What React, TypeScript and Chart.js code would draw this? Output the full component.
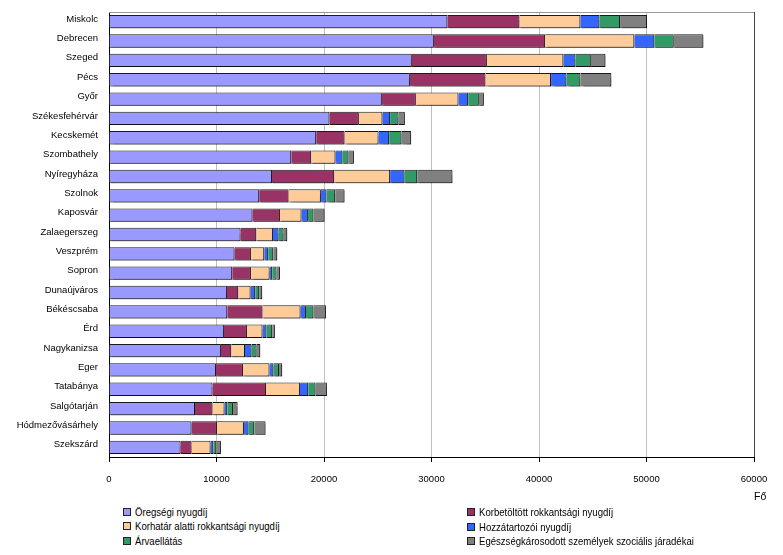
import React, { useEffect, useRef } from "react";
import { Chart, registerables } from "chart.js";

Chart.register(...registerables);

const categories = [
  "Miskolc", "Debrecen", "Szeged", "Pécs", "Győr", "Székesfehérvár", "Kecskemét",
  "Szombathely", "Nyíregyháza", "Szolnok", "Kaposvár", "Zalaegerszeg", "Veszprém",
  "Sopron", "Dunaújváros", "Békéscsaba", "Érd", "Nagykanizsa", "Eger", "Tatabánya",
  "Salgótarján", "Hódmezővásárhely", "Szekszárd",
];

const oregsegi = [31480, 30220, 28170, 27990, 25380, 20510, 19270, 16950, 15160, 13970, 13350, 12240, 11680, 11460, 10970, 11000, 10690, 10410, 9950, 9630, 8000, 7680, 6660];
const korbetoltott = [6700, 10350, 6980, 7030, 3160, 2730, 2640, 1860, 5790, 2730, 2550, 1460, 1520, 1740, 1050, 3280, 2140, 960, 2510, 4970, 1630, 2360, 1020];
const korhatarAlatti = [5670, 8300, 7120, 6100, 3970, 2200, 3160, 2260, 5200, 3010, 2010, 1550, 1240, 1740, 1150, 3540, 1450, 1280, 2470, 3160, 1120, 2510, 1770];
const hozzatartozoi = [1770, 1860, 1120, 1430, 900, 710, 990, 650, 1340, 520, 590, 520, 370, 240, 430, 500, 370, 610, 370, 770, 250, 430, 250];
const arvaellatas = [1920, 1800, 1430, 1300, 990, 780, 1150, 560, 1180, 810, 520, 470, 470, 400, 370, 700, 530, 470, 510, 680, 530, 530, 280];
const egeszseg = [2510, 2760, 1360, 2880, 470, 590, 900, 500, 3280, 870, 1030, 340, 370, 320, 280, 1160, 250, 340, 300, 1060, 430, 1050, 430];

const xTicks = [0, 10000, 20000, 30000, 40000, 50000, 60000];

const seriesNames = [
  "Öregségi nyugdíj",
  "Korbetöltött rokkantsági nyugdíj",
  "Korhatár alatti rokkantsági nyugdíj",
  "Hozzátartozói nyugdíj",
  "Árvaellátás",
  "Egészségkárosodott személyek szociális járadékai",
];
const seriesColors = ["#9999FF", "#993366", "#FFCC99", "#3366FF", "#339966", "#808080"];
const seriesData = [oregsegi, korbetoltott, korhatarAlatti, hozzatartozoi, arvaellatas, egeszseg];

const FONT = "'Liberation Sans', Arial, sans-serif";

const shadowPlugin = {
  id: "barShadow",
  beforeDatasetsDraw(chart: any) {
    const ctx = chart.ctx;
    ctx.save();
    ctx.shadowColor = "rgba(0,0,0,0.35)";
    ctx.shadowOffsetX = 1.5;
    ctx.shadowOffsetY = 1.5;
    ctx.shadowBlur = 1;
  },
  afterDatasetsDraw(chart: any) {
    chart.ctx.restore();
  },
};

const framePlugin = {
  id: "frame",
  afterDraw(chart: any) {
    const { ctx, chartArea } = chart;
    ctx.save();
    ctx.lineWidth = 1;
    ctx.strokeStyle = "#9a9a9a";
    ctx.beginPath();
    ctx.moveTo(chartArea.left, chartArea.top + 0.5);
    ctx.lineTo(chartArea.right, chartArea.top + 0.5);
    ctx.stroke();
    ctx.strokeStyle = "#444";
    ctx.beginPath();
    ctx.moveTo(chartArea.right + 0.5, chartArea.top);
    ctx.lineTo(chartArea.right + 0.5, chartArea.bottom);
    ctx.stroke();
    ctx.restore();
  },
};

export default function App() {
  const ref = useRef<HTMLCanvasElement | null>(null);

  useEffect(() => {
    document.body.style.margin = "0";
    if (!ref.current) return;
    const chart = new Chart(ref.current, {
      type: "bar",
      data: {
        labels: categories,
        datasets: seriesNames.map((name, i) => ({
          label: name,
          data: seriesData[i],
          backgroundColor: seriesColors[i],
          borderColor: "#1a1a1a",
          borderWidth: 1,
          barPercentage: 0.69,
          categoryPercentage: 1,
        })),
      },
      options: {
        indexAxis: "y",
        responsive: false,
        animation: false,
        maintainAspectRatio: false,
        layout: { padding: { top: 12, right: 29, left: 0, bottom: 0 } },
        plugins: {
          legend: { display: false },
          tooltip: { enabled: false },
        },
        scales: {
          x: {
            stacked: true,
            min: 0,
            max: 60000,
            afterBuildTicks: (scale: any) => {
              scale.ticks = xTicks.map((v) => ({ value: v }));
            },
            afterFit: (scale: any) => {
              scale.height = 43;
              scale.paddingLeft = 0;
              scale.paddingRight = 0;
            },
            ticks: {
              color: "#000",
              font: { family: FONT, size: 9.5 },
              padding: 12,
              maxRotation: 0,
              callback: (v: any) => String(v),
            },
            grid: { color: "#c0c0c0", tickColor: "#000", tickLength: 5, lineWidth: 1 },
            border: { color: "#000", width: 1 },
          },
          y: {
            stacked: true,
            afterFit: (scale: any) => {
              scale.width = 109;
              scale.paddingTop = 0;
              scale.paddingBottom = 0;
            },
            ticks: {
              color: "#000",
              font: { family: FONT, size: 9.5 },
              padding: 11,
              labelOffset: -2.5,
              autoSkip: false,
            },
            grid: { display: false, drawTicks: false },
            border: { display: true, color: "#000", width: 1 },
          },
        },
      },
      plugins: [shadowPlugin, framePlugin],
    } as any);
    return () => chart.destroy();
  }, []);

  const legendPos = [
    { x: 123, y: 512 },
    { x: 467, y: 512 },
    { x: 123, y: 526 },
    { x: 467, y: 526.5 },
    { x: 123, y: 541 },
    { x: 467, y: 541 },
  ];

  return (
    <div style={{ position: "relative", width: 783, height: 555, background: "#fff", fontFamily: FONT }}>
      <canvas ref={ref} width={783} height={500} style={{ position: "absolute", left: 0, top: 0, width: 783, height: 500 }} />
      <div style={{ position: "absolute", left: 754, top: 489, fontSize: 10.5, lineHeight: "14px", color: "#000" }}>Fő</div>
      {seriesNames.map((name, i) => (
        <div
          key={name}
          style={{
            position: "absolute",
            left: legendPos[i].x,
            top: legendPos[i].y - 7,
            height: 14,
            display: "flex",
            alignItems: "center",
            fontSize: 11,
            color: "#000",
            whiteSpace: "nowrap",
          }}
        >
          <span
            style={{
              display: "inline-block",
              width: 6,
              height: 6,
              border: "1px solid #222",
              background: seriesColors[i],
              marginRight: 4,
            }}
          />
          <span style={{ display: "inline-block", transform: "scaleX(0.87)", transformOrigin: "left center" }}>{name}</span>
        </div>
      ))}
    </div>
  );
}
